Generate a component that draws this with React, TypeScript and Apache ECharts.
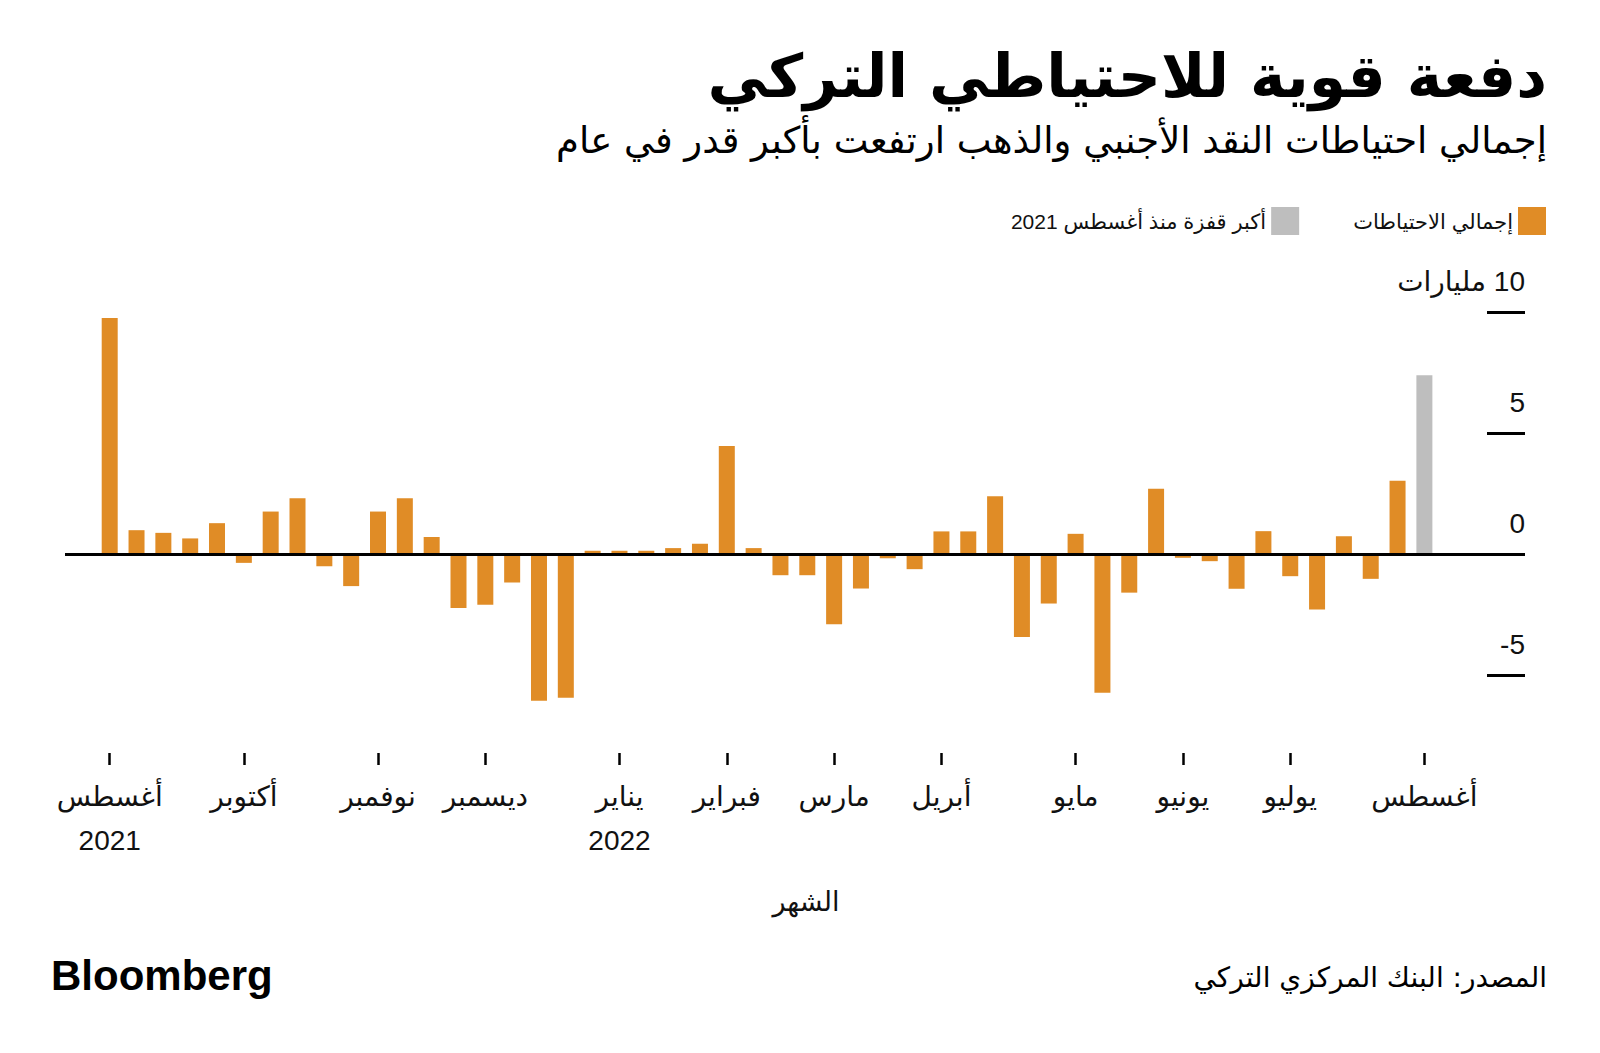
import React, { useEffect, useRef } from "react";
import * as echarts from "echarts";

// Weekly change in Turkey's total reserves (USD bn), Aug 2021 -> Aug 2022
const totalReserves: (number | null)[] = [
  9.76, 0.99, 0.88, 0.65, 1.28, -0.36, 1.76, 2.31, -0.5, -1.32,
  1.76, 2.31, 0.71, -2.22, -2.09, -1.17, -6.06, -5.93, 0.14, 0.14,
  0.14, 0.25, 0.43, 4.47, 0.25, -0.87, -0.87, -2.9, -1.42, -0.17,
  -0.62, 0.94, 0.94, 2.39, -3.42, -2.04, 0.84, -5.73, -1.59, 2.7,
  -0.15, -0.29, -1.43, 0.95, -0.91, -2.29, 0.74, -1.02, 3.03, null,
];
const biggestJump: (number | null)[] = [
  ...new Array(49).fill(null),
  7.39,
];

// Month tick positions (week index) and labels
const monthTickIndex = [0, 5, 10, 14, 19, 23, 27, 31, 36, 40, 44, 49];
const monthLabels = [
  "أغسطس\n2021",
  "أكتوبر",
  "نوفمبر",
  "ديسمبر",
  "يناير\n2022",
  "فبراير",
  "مارس",
  "أبريل",
  "مايو",
  "يونيو",
  "يوليو",
  "أغسطس",
];
const yTicks = [-5, 0, 5, 10];
const yTickLabels = ["-5", "0", "5", "مليارات\u200E 10"];

const seriesNames = ["إجمالي الاحتياطات", "أكبر قفزة منذ أغسطس 2021"];

const ORANGE = "#E08C26";
const GRAY = "#BEBEBE";
const AR_FONT = "'DejaVu Sans', sans-serif";
const NUM_FONT = "'Liberation Sans', 'DejaVu Sans', sans-serif";

export default function App() {
  const ref = useRef<HTMLDivElement>(null);

  useEffect(() => {
    if (!ref.current) return;
    const chart = echarts.init(ref.current, undefined, { renderer: "svg" });

    const toPairs = (arr: (number | null)[]) =>
      arr
        .map((v, i) => (v === null ? null : [i, v]))
        .filter((d) => d !== null) as number[][];

    const option: any = {
      animation: false,
      backgroundColor: "#ffffff",
      grid: { left: 65, right: 75, top: 300, bottom: 300, containLabel: false },
      legend: {
        right: 49,
        top: 202,
        align: "right",
        itemWidth: 28,
        itemHeight: 28,
        itemGap: 54,
        icon: "rect",
        data: [seriesNames[1], seriesNames[0]],
        textStyle: { fontFamily: NUM_FONT, fontSize: 21, color: "#111" },
      },
      xAxis: {
        type: "value",
        min: -1.666,
        max: 52.75,
        position: "bottom",
        axisLine: { show: false, onZero: false },
        splitLine: { show: false },
        axisTick: {
          show: true,
          length: 12,
          customValues: monthTickIndex,
          lineStyle: { color: "#000", width: 2.5 },
        },
        axisLabel: {
          show: true,
          customValues: monthTickIndex,
          margin: 21,
          fontFamily: NUM_FONT,
          fontSize: 28,
          lineHeight: 44,
          color: "#111",
          formatter: (v: number) => {
            const k = monthTickIndex.indexOf(Math.round(v));
            return k >= 0 ? monthLabels[k] : "";
          },
        },
        name: "الشهر",
        nameLocation: "middle",
        nameGap: 135,
        nameTextStyle: {
          fontFamily: AR_FONT,
          fontSize: 27,
          color: "#111",
          padding: [0, 0, 0, 22],
        },
      },
      yAxis: {
        type: "value",
        position: "right",
        min: -8.215,
        max: 10.5,
        axisLine: { show: false, onZero: false },
        splitLine: { show: false },
        axisTick: {
          show: true,
          inside: true,
          length: 38,
          customValues: yTicks,
          lineStyle: { color: "#000", width: 3 },
        },
        axisLabel: {
          show: true,
          inside: true,
          customValues: yTicks,
          margin: 0,
          align: "right",
          verticalAlign: "bottom",
          padding: [0, 0, 17, 0],
          fontFamily: NUM_FONT,
          fontSize: 28,
          color: "#111",
          formatter: (v: number) => {
            const k = yTicks.indexOf(Math.round(v));
            return k >= 0 ? yTickLabels[k] : "";
          },
        },
      },
      series: [
        {
          name: seriesNames[0],
          type: "bar",
          barWidth: 16,
          barGap: "-100%",
          itemStyle: { color: ORANGE },
          data: toPairs(totalReserves),
          markLine: {
            silent: true,
            symbol: ["none", "none"],
            label: { show: false },
            lineStyle: { color: "#000", width: 3, type: "solid" },
            data: [{ yAxis: 0 }],
            z: 10,
          },
        },
        {
          name: seriesNames[1],
          type: "bar",
          barWidth: 16,
          barGap: "-100%",
          itemStyle: { color: GRAY },
          data: toPairs(biggestJump),
        },
      ],
      graphic: [
        {
          type: "text",
          x: 1547,
          y: 76,
          style: {
            text: "دفعة قوية للاحتياطي التركي",
            align: "right",
            verticalAlign: "middle",
            fontFamily: AR_FONT,
            fontWeight: "bold",
            fontSize: 60,
            fill: "#000",
          },
        },
        {
          type: "text",
          x: 1547,
          y: 140,
          style: {
            text: "إجمالي احتياطات النقد الأجنبي والذهب ارتفعت بأكبر قدر في عام",
            align: "right",
            verticalAlign: "middle",
            fontFamily: AR_FONT,
            fontSize: 37,
            fill: "#000",
          },
        },
        {
          type: "text",
          x: 51,
          y: 975,
          style: {
            text: "Bloomberg",
            align: "left",
            verticalAlign: "middle",
            fontFamily: "'Liberation Sans', Arial, sans-serif",
            fontWeight: "bold",
            fontSize: 42,
            fill: "#000",
          },
        },
        {
          type: "text",
          x: 1547,
          y: 977,
          style: {
            text: "المصدر: البنك المركزي التركي",
            align: "right",
            verticalAlign: "middle",
            fontFamily: AR_FONT,
            fontSize: 28,
            fill: "#000",
          },
        },
      ],
    };

    chart.setOption(option);
    return () => {
      chart.dispose();
    };
  }, []);

  return (
    <div
      ref={ref}
      style={{
        position: "absolute",
        left: 0,
        top: 0,
        width: 1600,
        height: 1053,
        background: "#fff",
      }}
    />
  );
}
